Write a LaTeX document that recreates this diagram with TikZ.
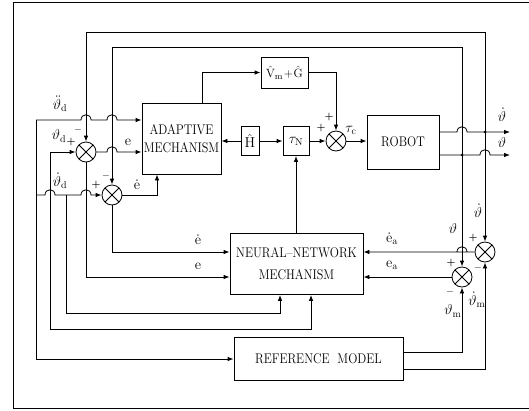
\documentclass[tikz,border=0pt]{standalone}
\usepackage{graphicx}
\usetikzlibrary{arrows.meta,calc}
\newcommand\cond[1]{\scalebox{0.86}[1]{#1}}
\newcommand\hop[2]{-- (#1-5,#2) .. controls (#1-5,#2-7) and (#1+5,#2-7) .. (#1+5,#2)}
\begin{document}
\begin{tikzpicture}[x=1pt,y=-1pt,line width=0.8pt,
  arr/.style={-{Latex[length=6pt,width=4.5pt]}},
  box/.style={draw,inner sep=0pt,align=center,font=\fontsize{14}{18}\selectfont},
  sumj/.style={circle,draw,minimum size=20pt,inner sep=0pt,
    path picture={\draw (path picture bounding box.north west)--(path picture bounding box.south east)
                        (path picture bounding box.north east)--(path picture bounding box.south west);}},
  lab/.style={inner sep=0pt,font=\fontsize{14}{16}\selectfont},
  pm/.style={inner sep=0pt,font=\fontsize{10}{12}\selectfont\bfseries}]
\useasboundingbox (0,0) rectangle (529,410);
% frame
\draw (529,2) -- (13,2) -- (13,408) -- (529,408);
% blocks
\node[box,minimum width=79pt,minimum height=71pt] (AM) at (181.5,138.5) {\cond{ADAPTIVE}\\\cond{MECHANISM}};
\node[box,minimum width=47pt,minimum height=31pt,font=\fontsize{13}{15}\selectfont] (VG) at (284.5,72.5) {$\hat{\mathrm V}_{\mathrm m}\!+\!\hat{\mathrm G}$};
\node[box,minimum width=18pt,minimum height=29pt] (H) at (250,141) {$\hat{\mathrm H}$};
\node[box,minimum width=26pt,minimum height=29pt] (TN) at (296,141) {$\tau_{\mathrm N}$};
\node[sumj] (sc) at (336,141) {};
\node[box,minimum width=72pt,minimum height=54pt] (Robot) at (403,142) {\cond{ROBOT}};
\node[box,minimum width=133pt,minimum height=61pt,font=\fontsize{14}{22}\selectfont] (NN) at (296.5,264) {\cond{NEURAL--NETWORK}\\\cond{MECHANISM}};
\node[box,minimum width=169pt,minimum height=43pt] (REF) at (318.5,359) {\cond{REFERENCE\ \ MODEL}};
\node[sumj] (s1) at (86,152) {};
\node[sumj] (s2) at (112,195) {};
\node[sumj] (s3) at (485,252) {};
\node[sumj] (s4) at (462,277) {};
% junctions
\coordinate (d1) at (485,132);
\coordinate (d2) at (462,155);
\coordinate (o1) at (510,132);
\coordinate (o2) at (510,155);
\coordinate (j1) at (36,120);
\coordinate (j2) at (50,152);
\coordinate (j3) at (36,195);
\coordinate (j4) at (66,195);
\fill (d1) circle (1.5pt);
\fill (d2) circle (1.5pt);
% robot outputs
\draw[arr] ([yshift=10pt]Robot.east) \hop{462}{132} -- (o1);
\draw[arr] ([yshift=-13pt]Robot.east) \hop{485}{155} -- (o2);
% feedback loops
\draw[arr] (d1) -- (485,32) -- (86,32) -- (s1.north);
\draw[arr] (d1) -- (s3.north);
\draw[arr] (d2) -- (462,47) -- (112,47) -- (s2.north);
\draw[arr] (d2) -- (s4.north);
% desired inputs
\draw[arr] (j1) \hop{86}{120} \hop{112}{120} -- (AM.west |- j1);
\draw[arr] (j1) |- (REF.west);
\draw[arr] (j2) -- (s1.west);
\draw[arr] (j2) -- (50,329) -| ([xshift=14.5pt]NN.south);
\draw[arr] (j3) \hop{50}{195} \hop{86}{195} -- (s2.west);
\draw[arr] (j4) -- (66,313) -| ([xshift=-16.5pt]NN.south);
% error signals
\draw[arr] (s1.east) \hop{112}{152} -- (AM.west |- s1.east);
\draw[arr] (s1.south) |- ([yshift=-13pt]NN.west);
\draw[arr] (s2.east) -| ([xshift=-24.5pt]AM.south);
\draw[arr] (s2.south) |- ([yshift=12pt]NN.west);
% forward path
\draw[arr] ([xshift=20.5pt]AM.north) |- (VG.west);
\draw[arr] (VG.east) -| (sc.north);
\draw[arr] (H.west) -- (AM.east |- H.west);
\draw[arr] (H) -- (TN);
\draw[arr] (TN) -- (sc);
\draw[arr] (sc.east) -- (Robot.west |- sc.east);
\draw[arr] (NN.north -| TN) -- (TN.south);
% right side
\draw[arr] (s3.west) \hop{462}{252} -- (NN.east |- s3.west);
\draw[arr] (s4.west) -- (NN.east |- s4.west);
\draw[arr] ([yshift=7pt]REF.east) -| (s4.south);
\draw[arr] ([yshift=-10pt]REF.east) -| (s3.south);
% labels
\node[lab] (l1) at (60,104) {$\ddot{\vartheta}_{\mathrm d}$};
\node[lab] (l2) at (59,136) {$\vartheta_{\mathrm d}$};
\node[pm] (p1) at (71,142) {+};
\node[pm] (m1) at (78,130) {$-$};
\node[lab] (l3) at (60,181) {$\dot{\vartheta}_{\mathrm d}$};
\node[pm] (p2) at (96,185) {+};
\node[pm] (m2) at (106,176) {$-$};
\node[lab] (l4) at (128,142) {$\mathrm e$};
\node[lab] (l5) at (137,185) {$\dot{\mathrm e}$};
\node[lab] (l6) at (198,240) {$\dot{\mathrm e}$};
\node[lab] (l7) at (198,266) {$\mathrm e$};
\node[lab] (l8) at (392,239) {$\dot{\mathrm e}_{\mathrm a}$};
\node[lab] (l9) at (392,265) {$\mathrm e_{\mathrm a}$};
\node[lab] (l10) at (453,228) {$\vartheta$};
\node[lab] (l11) at (478,211) {$\dot\vartheta$};
\node[pm] (p3) at (473,238) {+};
\node[pm] (m3) at (478,268) {$-$};
\node[pm] (p4) at (451,263) {+};
\node[pm] (m4) at (450,292) {$-$};
\node[lab] (l12) at (453,311) {$\vartheta_{\mathrm m}$};
\node[lab] (l13) at (477,300) {$\dot\vartheta_{\mathrm m}$};
\node[pm] (p5) at (321,128) {+};
\node[pm] (p6) at (329,117) {+};
\node[lab] (l14) at (351,130) {$\tau_{\mathrm c}$};
\node[lab] (l15) at (502,115) {$\dot\vartheta$};
\node[lab] (l16) at (502,142) {$\vartheta$};
\end{tikzpicture}
\end{document}
